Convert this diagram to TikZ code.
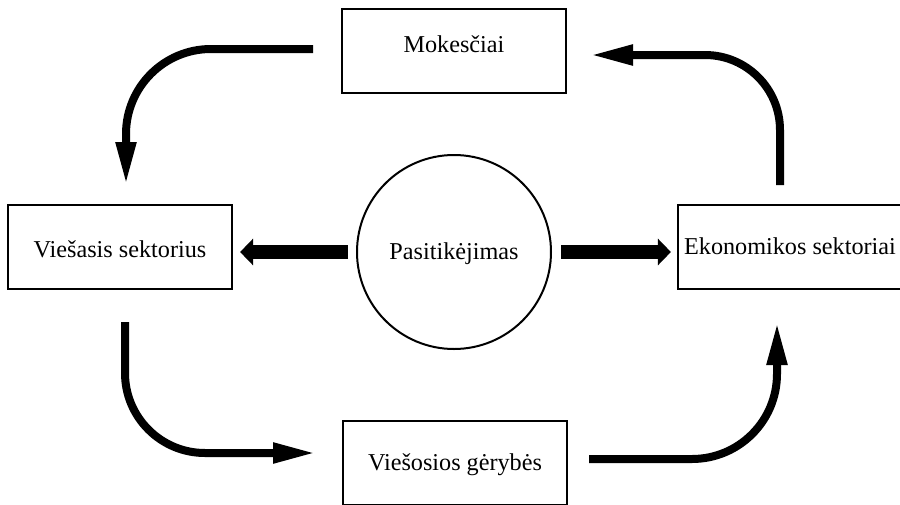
\documentclass[tikz,border=0pt]{standalone}
\usepackage{fontspec}
\setmainfont{Liberation Serif}
\usetikzlibrary{arrows.meta,calc}
\begin{document}
\begin{tikzpicture}[x=1pt,y=-1pt,
  every node/.style={font=\fontsize{24.2}{29}\selectfont},
  box/.style={draw=black, line width=2.2pt, rectangle, minimum width=224pt, minimum height=84pt, inner sep=0pt, text height=18pt, text depth=2.2pt},
  ring/.style={draw=black, line width=2pt, circle, minimum size=194pt, inner sep=0pt, text height=18pt, text depth=2.2pt},
  flow/.style={line width=8pt, -{Triangle[length=43pt,width=19pt]}},
  thick arrow/.style={line width=14pt, -{Triangle[length=13pt,width=26pt]}}
]
\useasboundingbox (0,0) rectangle (900,504);
\node[box, text height=18pt, text depth=14.2pt] (mok) at (454,51) {Mokesčiai};
\node[box, text height=22pt, text depth=1.2pt] (vs) at (120,247) {Viešasis sektorius};
\node[box] (eko) at (790,247) {Ekonomikos sektoriai};
\node[box] (vg) at (455,463) {Viešosios gėrybės};
\node[ring] (pas) at (454,252) {Pasitikėjimas};

\coordinate (tlS) at (313,49);
\coordinate (tlE) at (126,185);
\coordinate (trS) at (780,185);
\coordinate (trE) at (590,55);
\coordinate (blS) at (125,322);
\coordinate (blE) at (316,453);
\coordinate (brS) at (589,459);
\coordinate (brE) at (777,322);

\draw[flow, rounded corners=85pt] (tlS) -| (tlE);
\draw[flow, rounded corners=75pt] (trS) |- (trE);
\draw[flow, rounded corners=80pt] (blS) |- (blE);
\draw[flow, rounded corners=85pt] (brS) -| (brE);

\draw[thick arrow, shorten <=8pt, shorten >=7pt] (pas.west) -- (pas.west -| vs.east);
\draw[thick arrow, shorten <=9pt, shorten >=6pt] (pas.east) -- (pas.east -| eko.west);
\end{tikzpicture}
\end{document}
